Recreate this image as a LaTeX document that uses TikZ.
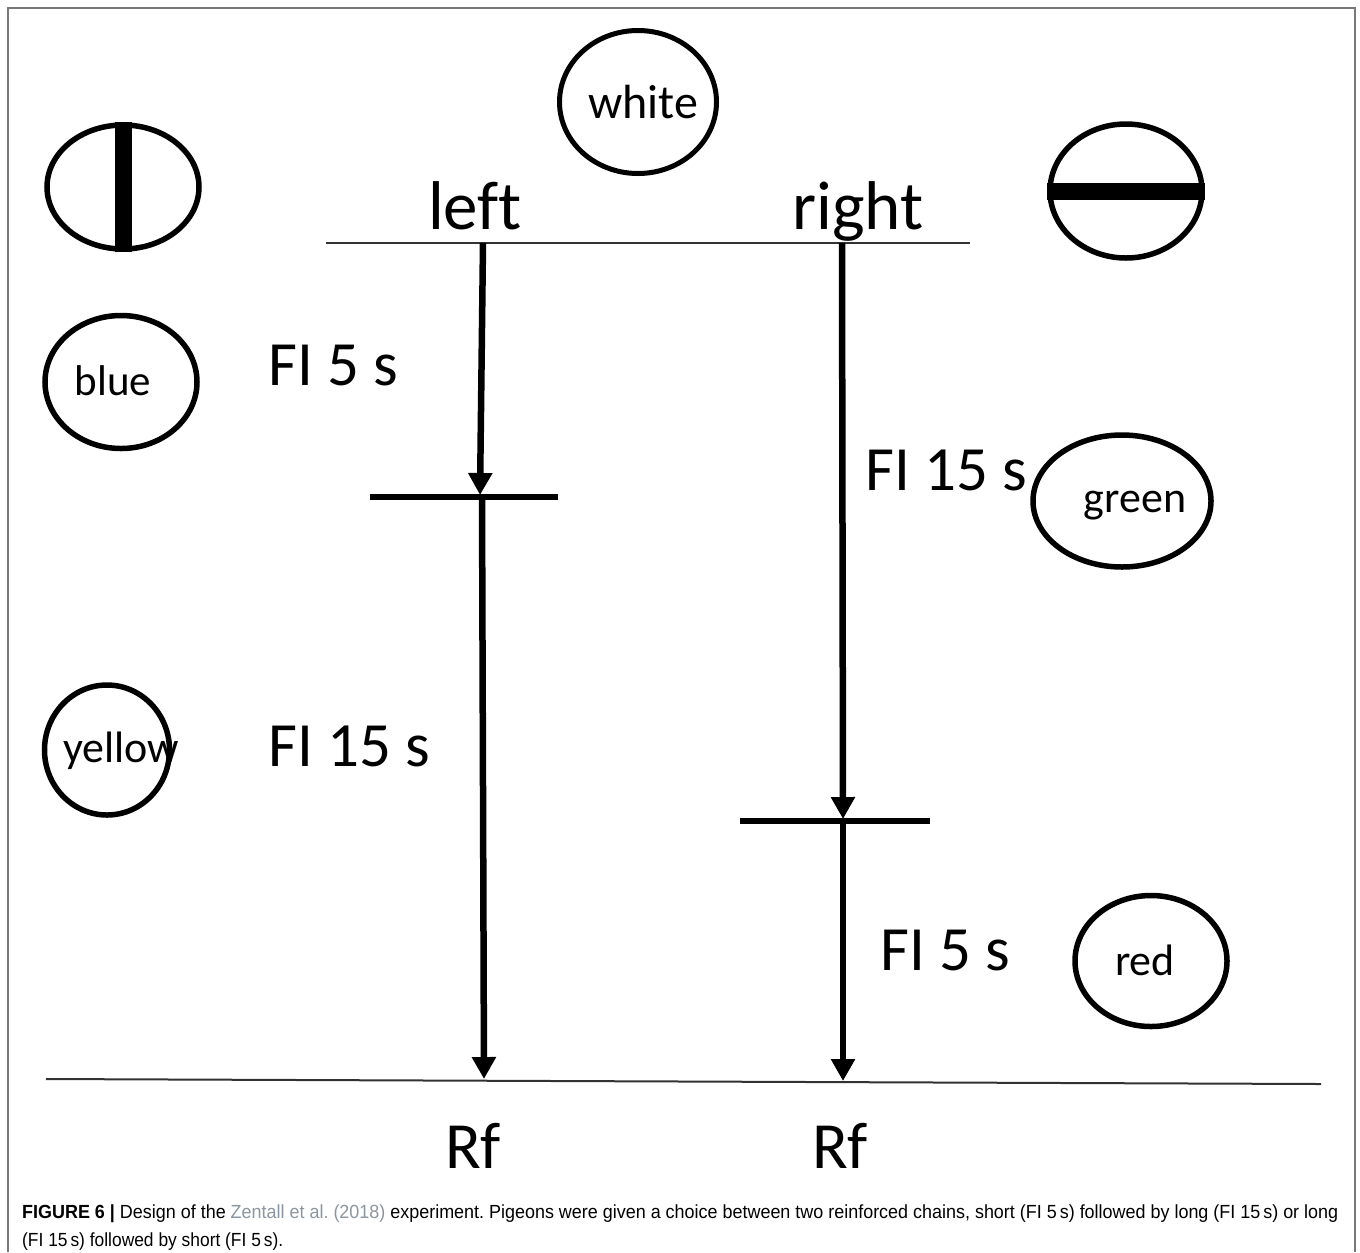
\documentclass[tikz,border=0pt]{standalone}
\usepackage{fontspec}
\setmainfont[Ligatures=NoCommon]{Carlito}
\newfontfamily\capfont{Liberation Sans}
\usetikzlibrary{shapes.geometric,arrows.meta}
\definecolor{linkgray}{RGB}{140,150,160}
\definecolor{framegray}{RGB}{120,120,120}
\frenchspacing
\begin{document}
\begin{tikzpicture}[x=1bp,y=-1bp,
  ell/.style={draw,ellipse,line width=5.5bp,inner sep=0pt},
  thick arrow/.style={line width=6.5bp,-{Triangle[width=23bp,length=22bp]}},
  barline/.style={line width=6.5bp},
  thin line/.style={line width=2bp,draw={rgb,255:red,50;green,50;blue,50}},
  smalltext/.style={inner sep=0pt,anchor=base,font=\fontsize{44bp}{44bp}\selectfont},
  fitext/.style={inner sep=0pt,anchor=base west,font=\fontsize{63bp}{63bp}\selectfont},
  bigtext/.style={inner sep=0pt,anchor=base,font=\fontsize{69bp}{69bp}\selectfont},
  captext/.style={inner sep=0pt,anchor=base west,font=\capfont\fontsize{19bp}{22bp}\selectfont}]
\useasboundingbox (0,0) rectangle (1360,1252);
\fill[white] (0,0) rectangle (1360,1252);
% frame
\draw[framegray,line width=2.5bp] (8,1252) -- (8,8) -- (1355,8) -- (1355,1252);

% ellipses
\node[ell,minimum width=152bp,minimum height=124bp] (vert) at (123,187) {};
\draw[line width=17bp] (vert.north) -- (vert.south);
\node[ell,minimum width=152bp,minimum height=134bp] (horz) at (1126,191) {};
\draw[line width=17bp] (horz.west) -- (horz.east);
\node[ell,line width=5bp,minimum width=157bp,minimum height=143bp] (ewhite) at (638,102) {};
\node[ell,minimum width=152bp,minimum height=133bp] (eblue) at (121,382) {};
\node[ell,minimum width=178bp,minimum height=132bp] (egreen) at (1122,501) {};
\node[ell,minimum width=125bp,minimum height=130bp] (eyellow) at (107,750) {};
\node[ell,minimum width=152bp,minimum height=131bp] (ered) at (1151,961) {};

\node[smalltext,font=\fontsize{48bp}{48bp}\selectfont] (twhite) at (643,118) {white};
\node[smalltext,font=\fontsize{43bp}{43bp}\selectfont] (tblue) at (113,395) {blue};
\node[smalltext] (tgreen) at (1135,512) {green};
\node[smalltext] (tyellow) at (121,762) {yellow};
\node[smalltext] (tred) at (1145,975) {red};

% headings
\node[bigtext] (tleft) at (475,229) {left};
\node[bigtext] (tright) at (858,229) {right};
\node[bigtext,font=\fontsize{66bp}{66bp}\selectfont] (rf1) at (473,1168) {Rf};
\node[bigtext,font=\fontsize{66bp}{66bp}\selectfont] (rf2) at (840,1168) {Rf};

% interval labels
\node[fitext] (fi1) at (268,385) {FI 5 s};
\node[fitext] (fi2) at (865,490) {FI 15 s};
\node[fitext] (fi3) at (268,766) {FI 15 s};
\node[fitext] (fi4) at (880,970) {FI 5 s};

% structure lines
\coordinate (topL) at (326,243);
\coordinate (topR) at (970,243);
\draw[thin line] (topL) -- (topR);
\coordinate (botL) at (46,1079);
\coordinate (botR) at (1321,1084);
\draw[thin line] (botL) -- (botR);

\coordinate (a1s) at (483,243);
\coordinate (a1e) at (480,495);
\coordinate (t1a) at (370,497);
\coordinate (t1b) at (558,497);
\coordinate (a2s) at (482,497);
\coordinate (a2e) at (484,1079);
\coordinate (b1s) at (842,243);
\coordinate (b1e) at (843,819);
\coordinate (t2a) at (740,821);
\coordinate (t2b) at (930,821);
\coordinate (b2s) at (843,821);
\coordinate (b2e) at (843,1081);

\draw[barline] (t1a) -- (t1b);
\draw[barline] (t2a) -- (t2b);
\draw[thick arrow] (a1s) -- (a1e);
\draw[thick arrow] (a2s) -- (a2e);
\draw[thick arrow] (b1s) -- (b1e);
\draw[thick arrow] (b2s) -- (b2e);

% caption
\node[captext] (cap1) at (22,1218) {\resizebox{1316bp}{\height}{\textbf{FIGURE 6 |} Design of the \textcolor{linkgray}{Zentall et al. (2018)} experiment. Pigeons were given a choice between two reinforced chains, short (FI 5\,s) followed by long (FI 15\,s) or long}};
\node[captext] (cap2) at (22,1246) {\resizebox{261bp}{\height}{(FI 15\,s) followed by short (FI 5\,s).}};
\end{tikzpicture}
\end{document}
